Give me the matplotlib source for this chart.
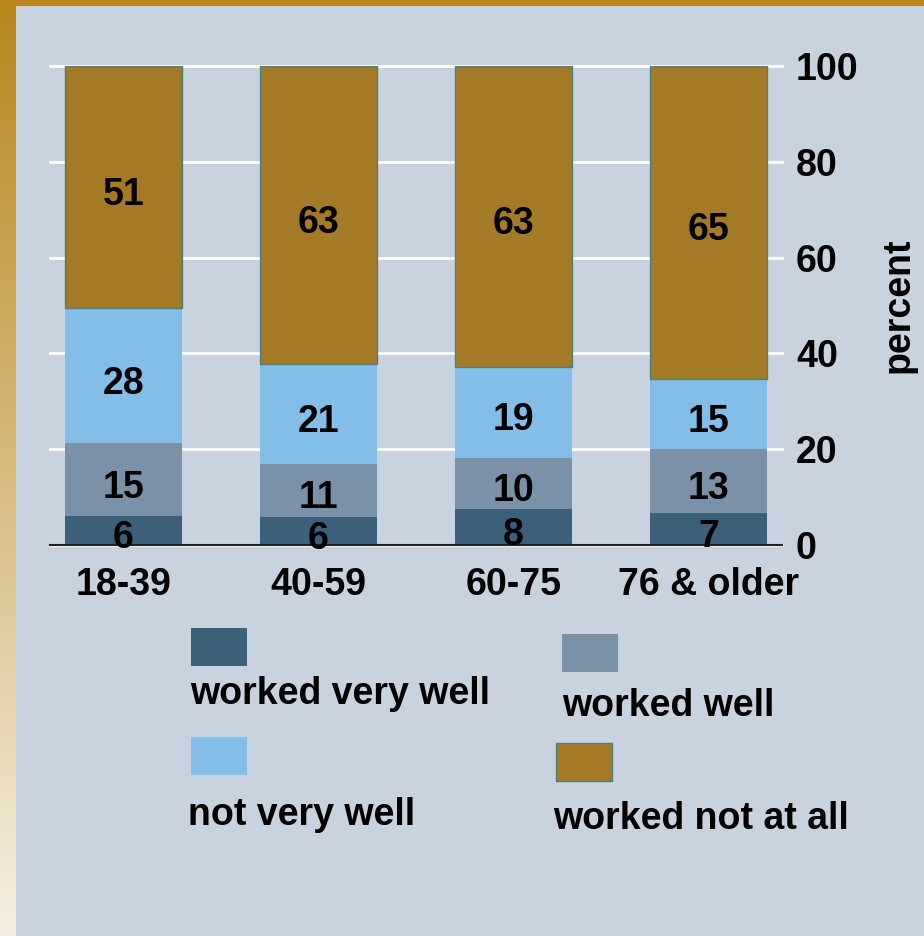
import numpy as np
import matplotlib

matplotlib.use("Agg")

import matplotlib.pyplot as plt
from matplotlib.patches import Rectangle

# ==================================================
# DATA
# ==================================================

groups = ["18-39", "40-59", "60-75", "76 & older"]

# segment heights (percent)
very_well = [6.0, 5.8, 7.5, 6.7]
well = [15.2, 11.1, 10.7, 13.3]
not_very = [28.2, 20.9, 19.0, 14.7]
not_at_all = [50.6, 62.2, 62.8, 65.3]

# numbers printed on the segments
very_well_lbl = [6, 6, 8, 7]
well_lbl = [15, 11, 10, 13]
not_very_lbl = [28, 21, 19, 15]
not_at_all_lbl = [51, 63, 63, 65]

series_names = ["worked very well", "worked well", "not very well", "worked not at all"]

# ==================================================
# STYLE
# ==================================================

PANEL = "#C8D3DF"
GOLD_FRAME = "#B8861A"
COLORS = ["#3D6079", "#7A91A8", "#82BEE8", "#A47A26"]
FS = 27

plt.rcParams["font.family"] = ["Liberation Sans", "DejaVu Sans"]
plt.rcParams["font.weight"] = "bold"

W, H = 924, 936
fig = plt.figure(figsize=(W / 100, H / 100), dpi=100)
fig.patch.set_facecolor(PANEL)

# frame: gold band on top, gold-to-cream gradient on left
frame = fig.add_axes([0, 0, 16 / W, 1])
grad = np.linspace(0, 1, 256).reshape(-1, 1)
c0 = np.array([0xB8, 0x86, 0x1A]) / 255
c1 = np.array([0xF6, 0xEF, 0xE1]) / 255
img = c0[None, None, :] * (1 - grad[:, :, None]) + c1[None, None, :] * grad[:, :, None]
frame.imshow(img, aspect="auto", extent=[0, 1, 0, 1], origin="upper")
frame.set_axis_off()
fig.patches.append(Rectangle((0, 1 - 6 / H), 1, 6 / H, transform=fig.transFigure,
                             facecolor=GOLD_FRAME, edgecolor="none", zorder=5))

# ==================================================
# BARS
# ==================================================

ax = fig.add_axes([50 / W, (H - 545) / H, 732 / W, 479 / H])
ax.set_facecolor(PANEL)

x = np.arange(len(groups))
stack = [very_well, well, not_very, not_at_all]
labels = [very_well_lbl, well_lbl, not_very_lbl, not_at_all_lbl]

bottom = np.zeros(len(groups))
for i, (vals, lbls) in enumerate(zip(stack, labels)):
    vals = np.array(vals)
    edge = "#4E7F7E" if i == 3 else "none"
    ax.bar(x, vals, 0.6, bottom=bottom, color=COLORS[i], edgecolor=edge,
           linewidth=1, zorder=2)
    for xi, b, v, t in zip(x, bottom, vals, lbls):
        ax.text(xi, b + v / 2 - 1.6, str(t), ha="center", va="center",
                fontsize=FS, fontweight="bold", zorder=4)
    bottom += vals

ax.set_xlim(-0.377, 3.377)
ax.set_ylim(0, 100)
ax.set_yticks(np.arange(0, 101, 20))
ax.yaxis.tick_right()
ax.yaxis.set_label_position("right")
ax.tick_params(axis="y", length=0, pad=10, labelsize=FS)
ax.tick_params(axis="x", length=0, pad=16, labelsize=FS)
ax.set_xticks(x)
ax.set_xticklabels(groups)
for lab in ax.get_xticklabels() + ax.get_yticklabels():
    lab.set_fontweight("bold")

ax.yaxis.grid(True, color="white", linewidth=2, zorder=0)
ax.set_axisbelow(True)
for gl in ax.get_ygridlines():
    gl.set_clip_on(False)
ax.axhline(0, color="#222222", linewidth=1.5, zorder=3, clip_on=False)

for s in ax.spines.values():
    s.set_visible(False)

ax.set_ylabel("percent", fontsize=FS, fontweight="bold", labelpad=16)

# ==================================================
# LEGEND (two columns, swatch above text)
# ==================================================

legend_items = [
    (191, 628, 190, 694),
    (562, 634, 562, 706),
    (191, 737, 188, 815),
    (556, 743, 553, 819),
]
for (px, py, tx, ty), name, col, k in zip(legend_items, series_names, COLORS, range(4)):
    edge = "#4E7F7E" if k == 3 else "none"
    fig.patches.append(Rectangle((px / W, 1 - (py + 38) / H), 56 / W, 38 / H,
                                 transform=fig.transFigure, facecolor=col,
                                 edgecolor=edge, linewidth=1))
    fig.text(tx / W, 1 - ty / H, name, fontsize=FS, fontweight="bold",
             ha="left", va="center")

fig.savefig("out.png", dpi=100, facecolor=PANEL)
plt.close(fig)
